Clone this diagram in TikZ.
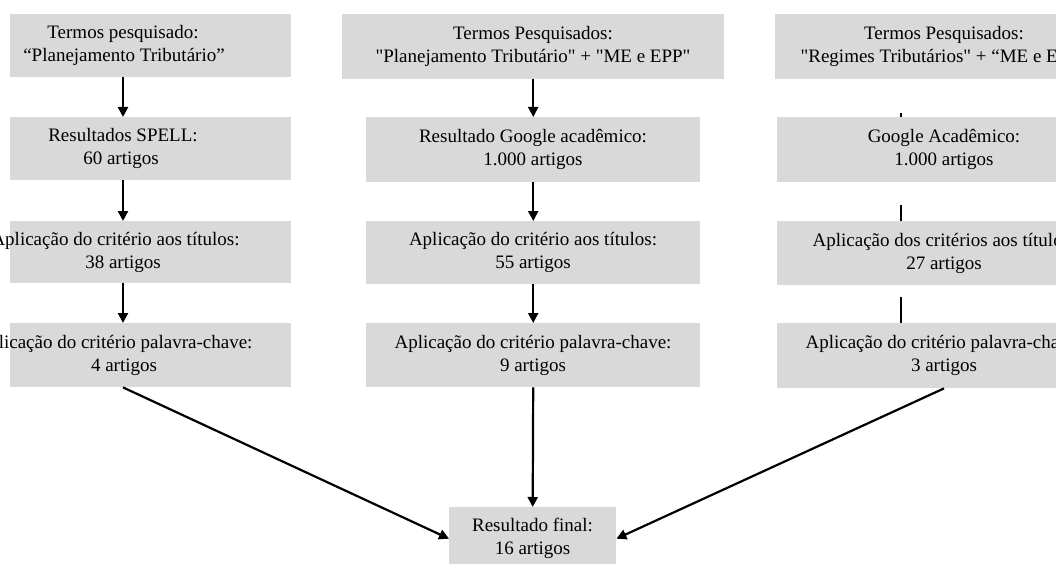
\documentclass[tikz,border=0pt]{standalone}
\usepackage{fontspec}
\newfontfamily\tnr{Liberation Serif}
\usetikzlibrary{arrows.meta}
\definecolor{boxgray}{HTML}{D9D9D9}
\tikzset{
  box/.style={fill=boxgray, draw=none, inner sep=0pt, anchor=north west},
  txt/.style={align=center, inner sep=0pt, font=\tnr\fontsize{19}{23}\selectfont, text=black},
  arr/.style={line width=2.2pt, -{Triangle[length=10pt,width=10pt]}},
  ln/.style={line width=2.2pt}
}
\begin{document}
\begin{tikzpicture}[x=1pt,y=-1pt]
\useasboundingbox (0,0) rectangle (1056,564);
\clip (0,0) rectangle (1056,564);
% left column boxes
\node[box, minimum width=281pt, minimum height=63pt] (bl1) at (10,14) {};
\node[box, minimum width=281pt, minimum height=63pt] (bl2) at (10,117) {};
\node[box, minimum width=281pt, minimum height=62pt] (bl3) at (10,221) {};
\node[box, minimum width=281pt, minimum height=64pt] (bl4) at (10,323) {};
% middle column boxes
\node[box, minimum width=382pt, minimum height=65pt] (bm1) at (342,14) {};
\node[box, minimum width=334pt, minimum height=65pt] (bm2) at (366,117) {};
\node[box, minimum width=334pt, minimum height=63pt] (bm3) at (366,221) {};
\node[box, minimum width=334pt, minimum height=64pt] (bm4) at (366,323) {};
% right column boxes
\node[box, minimum width=382pt, minimum height=65pt] (br1) at (775,14) {};
\node[box, minimum width=334pt, minimum height=65pt] (br2) at (777,117) {};
\node[box, minimum width=334pt, minimum height=64pt] (br3) at (777,221) {};
\node[box, minimum width=334pt, minimum height=65pt] (br4) at (777,323) {};
% final box
\node[box, minimum width=167pt, minimum height=63pt] (bf) at (449,507) {};
% texts
\node[txt] (tl1) at (124,45.5) {Termos pesquisado:\hspace*{2pt}\\“Planejamento Tributário”};
\node[txt] (tl2) at (121,148.5) {Resultados SPELL:\hspace*{-4pt}\\60 artigos};
\node[txt] (tl3) at (123,252) {Aplicação do critério aos títulos:\hspace*{15pt}\\38 artigos};
\node[txt] (tl4) at (124,355) {Aplicação do critério palavra-chave:\hspace*{20pt}\\4 artigos};
\node[txt] (tm1) at (533,46.5) {Termos Pesquisados:\\"Planejamento Tributário" + "ME e EPP"};
\node[txt] (tm2) at (533,149.5) {Resultado Google acadêmico:\\1.000 artigos};
\node[txt] (tm3) at (533,252.5) {Aplicação do critério aos títulos:\\55 artigos};
\node[txt] (tm4) at (533,355) {Aplicação do critério palavra-chave:\\9 artigos};
\node[txt] (tr1) at (944,46.5) {Termos Pesquisados:\\"Regimes Tributários" + “ME e EPP”};
\node[txt] (tr2) at (944,149.5) {Google Acadêmico:\\1.000 artigos};
\node[txt] (tr3) at (944,253) {Aplicação dos critérios aos títulos:\\27 artigos};
\node[txt] (tr4) at (944,355.5) {Aplicação do critério palavra-chave:\\3 artigos};
\node[txt] (tf) at (532.5,538.5) {Resultado final:\\16 artigos};
% left arrows
\coordinate (la) at (123,0);
\draw[arr] (la |- bl1.south) -- (la |- bl2.north);
\draw[arr] (la |- bl2.south) -- (la |- bl3.north);
\draw[arr] (la |- bl3.south) -- (la |- bl4.north);
% middle arrows
\draw[arr] (bm2 |- bm1.south) -- (bm2.north);
\draw[arr] (bm2.south) -- (bm3.north);
\draw[arr] (bm3.south) -- (bm4.north);
\draw[arr] (bm4.south) -- (bf.north);
% right lines (no heads)
\coordinate (r1) at (901,113);
\coordinate (r2) at (901,205);
\coordinate (r3) at (901,297);
\draw[ln] (r1) -- (r1 |- br2.north);
\draw[ln] (r2) -- (r2 |- br3.north);
\draw[ln] (r3) -- (r3 |- br4.north);
% diagonals to final
\draw[arr] (la |- bl4.south) -- (bf.west);
\draw[arr] (tr4 |- br4.south) -- (bf.east);
\end{tikzpicture}
\end{document}
